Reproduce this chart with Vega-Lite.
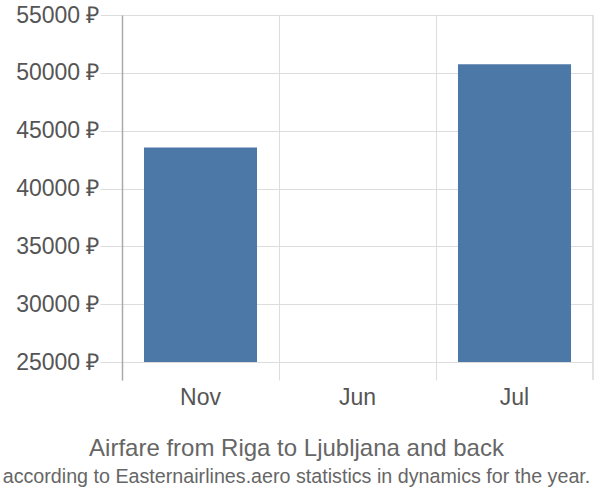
{
  "$schema": "https://vega.github.io/schema/vega-lite/v6.json",
  "width": 471,
  "height": 365,
  "autosize": {"type": "none"},
  "padding": {"left": 122, "top": 15, "right": 7, "bottom": 120},
  "background": "white",
  "config": {"view": {"stroke": null}, "font": "Liberation Sans"},
  "title": {
    "text": "Airfare from Riga to Ljubljana and back",
    "subtitle": "according to Easternairlines.aero statistics in dynamics for the year.",
    "orient": "bottom",
    "anchor": "middle",
    "offset": 28,
    "fontSize": 24,
    "fontWeight": "normal",
    "color": "#666666",
    "subtitleFontSize": 19.7,
    "subtitleColor": "#666666",
    "subtitlePadding": 6,
    "dx": -61
  },
  "data": {
    "values": [
      {"month": "Nov", "price": 43550},
      {"month": "Jun", "price": 25000},
      {"month": "Jul", "price": 50750}
    ]
  },
  "layer": [
    {
      "mark": {"type": "bar", "color": "#4c78a8", "width": {"band": 0.72}},
      "encoding": {
        "x": {
          "field": "month",
          "type": "nominal",
          "sort": ["Nov", "Jun", "Jul"],
          "scale": {"paddingInner": 0, "paddingOuter": 0},
          "axis": {
            "title": null,
            "domain": false,
            "ticks": false,
            "grid": true,
            "bandPosition": 0,
            "gridColor": "#dddddd",
            "labelAngle": 0,
            "labelFontSize": 23,
            "labelColor": "#555555",
            "labelPadding": 6
          }
        },
        "y": {
          "field": "price",
          "type": "quantitative",
          "scale": {"domain": [23444, 55000], "nice": false, "zero": false},
          "axis": {
            "title": null,
            "values": [25000, 30000, 35000, 40000, 45000, 50000, 55000],
            "labelExpr": "datum.value + ' ₽'",
            "labelFontSize": 23,
            "labelColor": "#555555",
            "labelPadding": 1,
            "tickSize": 22,
            "tickColor": "#dddddd",
            "gridColor": "#dddddd",
            "domainColor": "#aaaaaa",
            "domainWidth": 1.5
          }
        },
        "y2": {"datum": 25000}
      }
    },
    {
      "mark": {"type": "rule", "color": "#dddddd"},
      "encoding": {
        "x": {"datum": "Jul", "bandPosition": 1}
      }
    }
  ]
}
